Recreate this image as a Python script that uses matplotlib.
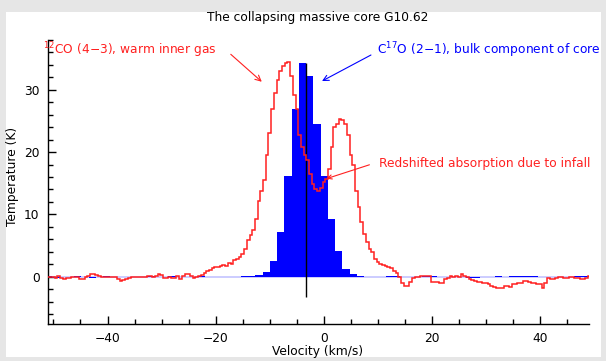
import numpy as np
import matplotlib
matplotlib.use("Agg")
import matplotlib.pyplot as plt
from matplotlib.patches import Rectangle
from matplotlib.ticker import MultipleLocator

# 12CO (4-3) spectrum, 0.5 km/s channels starting at -51 km/s
co_v0 = -51.0
co_dv = 0.5
co_T = [
    -0.1, -0.1, -0.05, -0.25, 0.1, -0.2, -0.3, -0.15, -0.25, -0.05,   # -51 .. -46.5
    0.0, -0.05, -0.35, -0.4, -0.1, 0.15, 0.4, 0.4, 0.25, 0.05,         # -46 .. -41.5
    0.0, -0.1, -0.1, 0.0, -0.05, -0.05, -0.35, -0.75, -0.55, -0.4,     # -41 .. -36.5
    -0.15, -0.1, -0.1, -0.1, -0.1, -0.05, 0.0, 0.1, 0.15, -0.1,        # -36 .. -31.5
    0.1, 0.37, 0.2, -0.15, -0.15, 0.0, -0.2, -0.25, 0.05, -0.3,        # -31 .. -26.5
    0.1, 0.4, 0.5, 0.05, -0.15, 0.0, 0.1, 0.3, 0.55, 0.85,             # -26 .. -21.5
    1.15, 1.4, 1.5, 1.6, 1.75, 1.87, 1.76, 2.13, 1.97, 2.67,           # -21 .. -16.5
    2.8, 3.2, 3.57, 4.43, 5.87, 6.7, 7.47, 9.33, 12.1, 13.8,           # -16 .. -11.5
    15.6, 19.5, 23.1, 26.9, 29.5, 31.5, 33.1, 33.9, 34.3, 34.4,        # -11 .. -6.5
    32.3, 29.2, 26.9, 22.7, 20.8, 19.5, 18.7, 16.5, 14.9, 14.1,        # -6 .. -1.5
    13.8, 14.2, 15.2, 15.7, 17.3, 20.8, 24.0, 24.5, 25.3, 25.1,        # -1 .. 3.5
    24.5, 22.7, 19.5, 17.9, 13.8, 11.2, 8.8, 6.9, 5.5, 4.5,            # 4 .. 8.5
    4.0, 2.9, 2.4, 2.1, 1.87, 1.7, 1.5, 1.44, 0.9, 0.53,               # 9 .. 13.5
    -0.1, -1.07, -1.5, -1.5, -0.8, -0.16, -0.1, -0.1, 0.05, 0.1,       # 14 .. 18.5
    0.1, 0.1, -0.8, -0.8, -0.9, -0.95, -1.07, -0.3, -0.2, 0.05,        # 19 .. 23.5
    0.0, 0.05, -0.1, 0.4, 0.1, 0.0, -0.3, -0.55, -0.7, -0.8,           # 24 .. 28.5
    -0.85, -1.05, -1.05, -1.1, -1.44, -1.6, -1.87, -1.8, -1.85, -1.44, # 29 .. 33.5
    -1.5, -1.6, -1.25, -1.2, -1.07, -1.07, -0.7, -0.7, -0.9, -0.95,    # 34 .. 38.5
    -1.07, -1.2, -1.23, -1.76, -1.07, -0.27, -0.43, -0.3, -0.16, 0.0,  # 39 .. 43.5
    0.0, -0.16, -0.16, -0.1, 0.0, -0.16, -0.16, -0.37, -0.37, -0.27,   # 44 .. 48.5
    0.16,                                                              # 49
]

# C17O (2-1) spectrum, 1.34 km/s channels, first edge at -51.54 km/s
c17_e0 = -51.54
c17_dv = 1.34
c17_T = [
    0.05, -0.15, 0.0, -0.1, 0.05, 0.0, -0.2, 0.0, 0.05, 0.0,
    0.0, -0.1, 0.0, -0.1, 0.05, 0.0, 0.0, 0.05, 0.0, 0.0,
    0.0, 0.05, 0.0, 0.0, -0.1, 0.0, 0.0, 0.1, 0.1, 0.2,
    0.8, 2.5, 7.2, 16.1, 26.9, 34.3, 32.3, 24.5, 16.1, 9.2,
    4.2, 1.3, 0.4, 0.15, 0.0, 0.0, 0.0, 0.05, 0.05, 0.0,
    0.0, 0.0, 0.1, 0.1, 0.0, 0.0, 0.0, 0.0, -0.15, -0.15,
    0.0, 0.0, 0.05, 0.0, 0.05, 0.05, 0.05, 0.05, 0.0, 0.0,
    0.0, 0.0, 0.0, 0.1, 0.05,
]

v_sys = -3.3
v_sys_span = (-3.2, 34.3)

co_edges = co_v0 - co_dv / 2 + co_dv * np.arange(len(co_T) + 1)
c17_edges = c17_e0 + c17_dv * np.arange(len(c17_T) + 1)

fig = plt.figure(figsize=(6.06, 3.61), dpi=100)
fig.patch.set_facecolor("#e6e6e6")
fig.patches.append(Rectangle((6 / 606, 1 - 357 / 361), 595 / 606, 345 / 361,
                             transform=fig.transFigure, facecolor="white",
                             edgecolor="none", zorder=-5))

ax = fig.add_axes([48 / 606, 1 - 324 / 361, 541 / 606, 284 / 361])
ax.set_facecolor("none")
ax.set_zorder(2)

ax.axhline(0, color="#c4c4ff", lw=1.2, zorder=1)
ax.stairs(c17_T, c17_edges, fill=True, color="#0000ff", zorder=2)
ax.vlines(v_sys, *v_sys_span, color="black", lw=1.0, zorder=3)
ax.stairs(co_T, co_edges, color="#ff2020", lw=1.1, zorder=4)

ax.set_xlim(-51, 49)
ax.set_ylim(-7.6, 38.0)
for s in ("top", "right"):
    ax.spines[s].set_visible(False)
for s in ("left", "bottom"):
    ax.spines[s].set_linewidth(1.0)

ax.xaxis.set_major_locator(MultipleLocator(20))
ax.xaxis.set_minor_locator(MultipleLocator(5))
ax.yaxis.set_major_locator(MultipleLocator(10))
ax.yaxis.set_minor_locator(MultipleLocator(2))
ax.tick_params(which="both", direction="in", labelsize=8.8, width=1.0)
ax.tick_params(which="major", length=6, pad=6)
ax.tick_params(which="minor", length=3.5)

fs = 8.8
fig.text(318 / 606, 1 - 18 / 361, "The collapsing massive core G10.62",
         ha="center", va="center", fontsize=fs, zorder=3)
fig.text(318 / 606, 1 - 352 / 361, "Velocity (km/s)", ha="center", va="center",
         fontsize=fs, zorder=3)
fig.text(13 / 606, 1 - 176 / 361, "Temperature (K)", ha="center", va="center",
         rotation=90, fontsize=fs, zorder=3)

red = "#ff2020"
blue = "#0000ff"
ax.text(-52.0, 36.3, "$^{12}$CO (4\u22123), warm inner gas", color=red,
        fontsize=fs, va="center", ha="left", clip_on=False)
ax.annotate("", xy=(-11.1, 31.0), xytext=(-17.6, 36.0),
            arrowprops=dict(arrowstyle="->,head_length=0.4,head_width=0.2", color=red, lw=0.8),
            annotation_clip=False)
ax.text(9.9, 36.3, "C$^{17}$O (2\u22121), bulk component of core", color=blue,
        fontsize=fs, va="center", ha="left", clip_on=False)
ax.annotate("", xy=(-0.8, 31.2), xytext=(9.15, 35.8),
            arrowprops=dict(arrowstyle="->,head_length=0.4,head_width=0.2", color=blue, lw=0.8),
            annotation_clip=False)
ax.text(10.1, 18.1, "Redshifted absorption due to infall", color=red,
        fontsize=fs, va="center", ha="left")
ax.annotate("", xy=(0.0, 15.6), xytext=(8.9, 18.1),
            arrowprops=dict(arrowstyle="->,head_length=0.3,head_width=0.15", color=red, lw=0.8))

fig.savefig("out.png", dpi=100)
